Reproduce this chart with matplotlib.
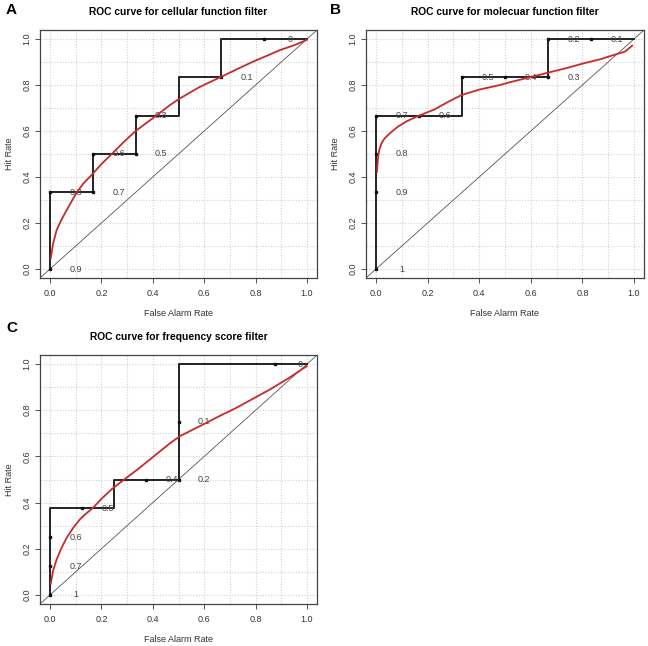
import matplotlib
matplotlib.use("Agg")
import matplotlib.pyplot as plt

plt.rcParams['font.family'] = ['Liberation Sans', 'DejaVu Sans']

# ---------------- data ----------------
# Panel A: cellular function filter
a_step_far = [0, 0, 1/6, 1/6, 1/3, 1/3, 1/2, 1/2, 2/3, 2/3, 1]
a_step_hr = [0, 1/3, 1/3, 1/2, 1/2, 2/3, 2/3, 5/6, 5/6, 1, 1]
a_pt_far = [0, 0, 1/6, 1/6, 1/3, 1/3, 2/3, 5/6]
a_pt_hr = [0, 1/3, 1/3, 1/2, 1/2, 2/3, 5/6, 1]
a_pt_lab = ["0.9", "0.8", "0.7", "0.6", "0.5", "0.3", "0.1", "0"]
a_fit_far = [0.003, 0.012, 0.026, 0.045, 0.065, 0.085, 0.104, 0.13, 0.162, 0.2, 0.24,
             0.285, 0.333, 0.408, 0.467, 0.506, 0.58, 0.661, 0.73, 0.791, 0.85,
             0.895, 0.95, 0.999]
a_fit_hr = [0.047, 0.11, 0.17, 0.215, 0.256, 0.296, 0.333, 0.372, 0.409, 0.456, 0.5,
            0.55, 0.6, 0.662, 0.713, 0.742, 0.79, 0.833, 0.87, 0.902, 0.93,
            0.952, 0.973, 0.996]

# Panel B: molecular function filter
b_step_far = [0, 0, 1/3, 1/3, 2/3, 2/3, 1]
b_step_hr = [0, 2/3, 2/3, 5/6, 5/6, 1, 1]
b_pt_far = [0, 0, 0, 0, 1/6, 1/3, 1/2, 2/3, 2/3, 5/6]
b_pt_hr = [0, 1/3, 1/2, 2/3, 2/3, 5/6, 5/6, 5/6, 1, 1]
b_pt_lab = ["1", "0.9", "0.8", "0.7", "0.6", "0.5", "0.4", "0.3", "0.2", "0.1"]
b_fit_far = [0.004, 0.006, 0.008, 0.013, 0.021, 0.032, 0.047, 0.065, 0.085, 0.12,
             0.163, 0.227, 0.28, 0.331, 0.40, 0.481, 0.512, 0.59, 0.668, 0.74,
             0.804, 0.87, 0.92, 0.965, 0.993]
b_fit_hr = [0.423, 0.458, 0.488, 0.52, 0.546, 0.566, 0.583, 0.601, 0.619, 0.643,
            0.665, 0.694, 0.727, 0.756, 0.78, 0.80, 0.81, 0.832, 0.854, 0.874,
            0.894, 0.912, 0.930, 0.945, 0.971]

# Panel C: frequency score filter
c_step_far = [0, 0, 0.25, 0.25, 0.5, 0.5, 1]
c_step_hr = [0, 0.375, 0.375, 0.5, 0.5, 1, 1]
c_pt_far = [0, 0, 0, 0.125, 0.375, 0.5, 0.5, 0.875]
c_pt_hr = [0, 0.125, 0.25, 0.375, 0.5, 0.5, 0.75, 1]
c_pt_lab = ["1", "0.7", "0.6", "0.5", "0.4", "0.2", "0.1", "0"]
c_fit_far = [0.003, 0.012, 0.026, 0.045, 0.065, 0.09, 0.117, 0.14, 0.168, 0.2, 0.24,
             0.298, 0.34, 0.389, 0.467, 0.506, 0.597, 0.66, 0.726, 0.79, 0.856,
             0.93, 0.999]
c_fit_hr = [0.049, 0.105, 0.154, 0.204, 0.248, 0.29, 0.328, 0.352, 0.378, 0.416, 0.458,
            0.508, 0.543, 0.587, 0.657, 0.688, 0.739, 0.775, 0.811, 0.85, 0.89,
            0.94, 0.991]

ticks = [0.0, 0.2, 0.4, 0.6, 0.8, 1.0]
tick_labels = ["0.0", "0.2", "0.4", "0.6", "0.8", "1.0"]
grid_vals = [i / 10 for i in range(11)]

W, H = 648, 646
fig = plt.figure(figsize=(W / 100, H / 100), dpi=100)


def px_axes(left, right, top, bottom):
    return fig.add_axes([left / W, 1 - bottom / H, (right - left) / W, (bottom - top) / H])


def draw_panel(ax, title, letter, letter_xy, sfar, shr, pfar, phr, plab, ffar, fhr):
    ax.set_xlim(-0.04, 1.04)
    ax.set_ylim(-0.04, 1.04)
    for g in grid_vals:
        ax.axvline(g, color='#cfcfcf', lw=0.8, ls=(0, (1, 1.5)), zorder=0)
        ax.axhline(g, color='#cfcfcf', lw=0.8, ls=(0, (1, 1.5)), zorder=0)
    ax.plot([-0.04, 1.04], [-0.04, 1.04], color='#555555', lw=0.6, zorder=1)
    ax.plot(sfar, shr, color='#222222', lw=1.4, zorder=2)
    ax.plot(pfar, phr, ls='none', marker='s', ms=2.0, color='#111111', zorder=3)
    for x, y, t in zip(pfar, phr, plab):
        ax.text(x + 0.1, y, t, ha='center', va='center', fontsize=6.5,
                color='#444444', zorder=4)
    ax.plot(ffar, fhr, color='#c62a2a', lw=1.3, zorder=5)
    ax.set_xticks(ticks)
    ax.set_xticklabels(tick_labels)
    ax.set_yticks(ticks)
    ax.set_yticklabels(tick_labels, rotation=90, va='center')
    ax.tick_params(direction='out', length=3.5, width=0.6, labelsize=6.5,
                   colors='#333333')
    ax.tick_params(axis='x', pad=4)
    ax.tick_params(axis='y', pad=2.5)
    for sp in ax.spines.values():
        sp.set_color('#444444')
        sp.set_linewidth(0.9)
    ax.set_xlabel("False Alarm Rate", fontsize=6.5, color='#333333')
    ax.set_ylabel("Hit Rate", fontsize=6.5, color='#333333')
    ax.xaxis.set_label_coords(0.5, -0.122)
    ax.yaxis.set_label_coords(-0.093, 0.5)
    ax.set_title(title, fontsize=7.4, fontweight='bold', pad=11)
    fig.text(letter_xy[0] / W, 1 - letter_xy[1] / H, letter, fontsize=11,
             fontweight='bold', ha='left', va='top')


axA = px_axes(39.7, 317.3, 29.8, 278.2)
draw_panel(axA, "ROC curve for cellular function filter", "A", (6, 3.5),
           a_step_far, a_step_hr, a_pt_far, a_pt_hr, a_pt_lab, a_fit_far, a_fit_hr)

axB = px_axes(365.7, 644.3, 29.8, 278.2)
draw_panel(axB, "ROC curve for molecuar function filter", "B", (330, 3.5),
           b_step_far, b_step_hr, b_pt_far, b_pt_hr, b_pt_lab, b_fit_far, b_fit_hr)

axC = px_axes(39.7, 317.3, 354.8, 604.2)
draw_panel(axC, "ROC curve for frequency score filter", "C", (6, 321.5),
           c_step_far, c_step_hr, c_pt_far, c_pt_hr, c_pt_lab, c_fit_far, c_fit_hr)

fig.savefig("out.png", dpi=100)
